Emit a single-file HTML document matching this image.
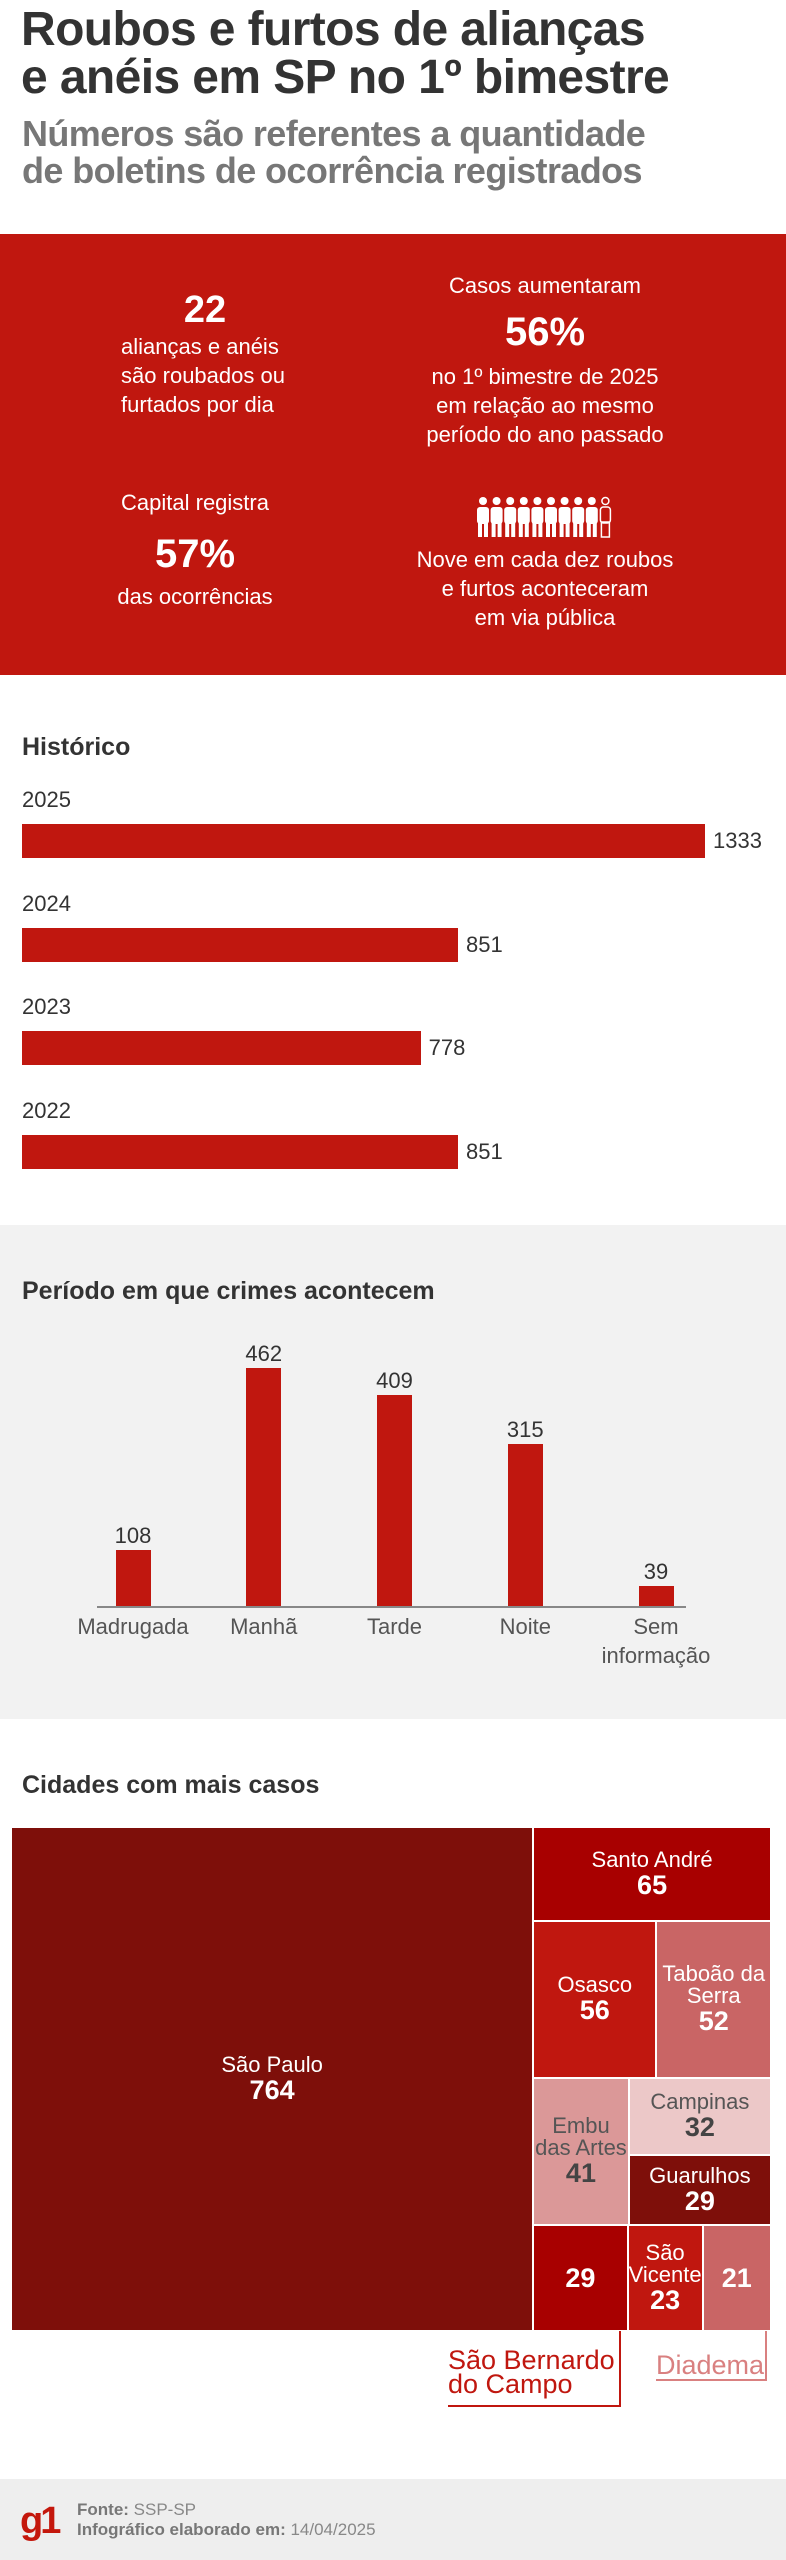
<!DOCTYPE html>
<html><head><meta charset="utf-8">
<style>
*{margin:0;padding:0;box-sizing:border-box}
body{width:786px;height:2560px;background:#fff;font-family:"Liberation Sans",sans-serif;position:relative;overflow:hidden;color:#333}
.a{position:absolute}
.t{white-space:nowrap}
.c{text-align:center;transform:translateX(-50%)}
</style></head><body>
<div class="a t" style="left:21px;top:6px;font-size:48px;font-weight:bold;line-height:48px;color:#333;letter-spacing:-0.6px">Roubos e furtos de alianças<br>e anéis em SP no 1º bimestre</div>
<div class="a t" style="left:22px;top:115px;font-size:36px;font-weight:bold;line-height:37px;color:#777;letter-spacing:-0.6px">Números são referentes a quantidade<br>de boletins de ocorrência registrados</div>

<div class="a" style="left:0;top:234px;width:786px;height:441px;background:#c0170f;color:#fff">
 <div class="a t c" style="left:205px;top:55px;font-size:38px;font-weight:bold">22</div>
 <div class="a t c" style="left:203px;top:98px;font-size:22px;line-height:29px;text-align:left">alianças e anéis<br>são roubados ou<br>furtados por dia</div>
 <div class="a t c" style="left:545px;top:39px;font-size:22px">Casos aumentaram</div>
 <div class="a t c" style="left:545px;top:76px;font-size:40px;font-weight:bold">56%</div>
 <div class="a t c" style="left:545px;top:128px;font-size:22px;line-height:29px">no 1º bimestre de 2025<br>em relação ao mesmo<br>período do ano passado</div>
 <div class="a t c" style="left:195px;top:256px;font-size:22px">Capital registra</div>
 <div class="a t c" style="left:195px;top:298px;font-size:40px;font-weight:bold">57%</div>
 <div class="a t c" style="left:195px;top:350px;font-size:22px">das ocorrências</div>
 <svg class="a" style="left:476px;top:262px" width="138" height="42" viewBox="0 0 138 42" id="ppl"></svg>
 <div class="a t c" style="left:545px;top:311px;font-size:22px;line-height:29px">Nove em cada dez roubos<br>e furtos aconteceram<br>em via pública</div>
</div>

<div class="a t" style="left:22px;top:733px;font-size:25px;font-weight:bold">Histórico</div>
<div id="hist"></div>

<div class="a" style="left:0;top:1225px;width:786px;height:494px;background:#f2f2f2"></div>
<div class="a t" style="left:22px;top:1277px;font-size:25px;font-weight:bold">Período em que crimes acontecem</div>
<div id="per"></div>

<div class="a t" style="left:22px;top:1771px;font-size:25px;font-weight:bold">Cidades com mais casos</div>
<div id="tree"></div>

<div class="a" style="left:448px;top:2331px;width:173px;height:76px;border-right:2px solid #c0170f;border-bottom:2px solid #c0170f"></div>
<div class="a t" style="left:448px;top:2348px;font-size:27px;line-height:24px;color:#c0170f">São Bernardo<br>do Campo</div>
<div class="a" style="left:656px;top:2331px;width:111px;height:50px;border-right:2px solid #d98080;border-bottom:2px solid #d98080"></div>
<div class="a t" style="left:656px;top:2350px;font-size:27px;color:#d98080">Diadema</div>

<div class="a" style="left:0;top:2479px;width:786px;height:81px;background:#eee"></div>
<div class="a t" style="left:20px;top:2500px;font-size:38px;font-weight:bold;color:#c4170c;letter-spacing:-3px">g1</div>
<div class="a t" style="left:77px;top:2500px;font-size:17px;line-height:20px;color:#888"><b style="color:#777">Fonte:</b> SSP-SP<br><b style="color:#777">Infográfico elaborado em:</b> 14/04/2025</div>

<script>
(function(){
 var s=document.getElementById('ppl'),h='';
 for(var i=0;i<10;i++){var x=7+i*13.6;
  if(i<9){h+='<circle cx="'+x+'" cy="5" r="4" fill="#fff"/><rect x="'+(x-6)+'" y="11" width="12" height="17" rx="3" fill="#fff"/><rect x="'+(x-5)+'" y="26" width="4" height="15" fill="#fff"/><rect x="'+(x+1)+'" y="26" width="4" height="15" fill="#fff"/>';}
  else{h+='<circle cx="'+x+'" cy="5" r="3.5" fill="none" stroke="#fff" stroke-width="1.5"/><rect x="'+(x-5)+'" y="11" width="10" height="16" rx="3" fill="none" stroke="#fff" stroke-width="1.5"/><rect x="'+(x-4)+'" y="26" width="8" height="15" fill="none" stroke="#fff" stroke-width="1.5"/>';}
 }
 s.innerHTML=h;
})();

var histYears=['2025','2024','2023','2022'];
var histValues=[1333,851,778,851];
var perCats=['Madrugada','Manhã','Tarde','Noite','Sem<br>informação'];
var perValues=[108,462,409,315,39];
var cityNames=['São Paulo','Santo André','Osasco','Taboão da<br>Serra','Embu<br>das Artes','Campinas','Guarulhos','','São<br>Vicente',''];
var cityValues=[764,65,56,52,41,32,29,29,23,21];
var cityColors=['#7e0f0a','#a80000','#c0170f','#c96565','#db9898','#ecc8c8','#7e0f0a','#a80000','#c0170f','#c96565'];

function mk(parent,css,html){var d=document.createElement('div');d.className='a t';d.style.cssText=css;if(html!=null)d.innerHTML=html;parent.appendChild(d);return d;}

(function(){
 var root=document.getElementById('hist');
 var x0=22,maxW=683,maxV=1333;
 function xs(v){return v/maxV*maxW;}
 for(var i=0;i<histYears.length;i++){
  var top=787+i*103.5;
  var l=mk(root,'left:22px;top:'+top+'px;font-size:22px;color:#333',histYears[i]);
  
  
  var b=mk(root,'left:'+x0+'px;top:'+(top+37)+'px;width:'+xs(histValues[i])+'px;height:34px;background:#c0170f');
  
  
  var v=mk(root,'left:'+(x0+xs(histValues[i])+8)+'px;top:'+(top+41)+'px;font-size:22px;color:#333',String(histValues[i]));
  
  
 }
})();

(function(){
 var root=document.getElementById('per');
 var base=1606,maxH=238,maxV=462,bw=35,x0=133,step=130.75;
 function ys(v){return v/maxV*maxH;}
 var ax=mk(root,'left:97px;top:'+base+'px;width:589px;height:2px;background:#888');
 
 
 for(var i=0;i<perCats.length;i++){
  var cx=x0+i*step,h=ys(perValues[i]);
  var b=mk(root,'left:'+(cx-bw/2)+'px;top:'+(base-h)+'px;width:'+bw+'px;height:'+h+'px;background:#c0170f');
  
  
  var v=mk(root,'left:'+cx+'px;top:'+(base-h-27)+'px;font-size:22px;color:#333;transform:translateX(-50%)',String(perValues[i]));
  
  
  var c=mk(root,'left:'+cx+'px;top:'+(base+6)+'px;font-size:22px;line-height:29px;color:#555;text-align:center;transform:translateX(-50%)',perCats[i]);
  
  
 }
})();

(function(){
 var root=document.getElementById('tree');
 var layout={d:'h',c:[0,{d:'v',c:[1,{d:'h',c:[2,3]},{d:'h',c:[4,{d:'v',c:[5,6]}]},{d:'h',c:[7,8,9]}]}]};
 function sum(n){if(typeof n==='number')return cityValues[n];var s=0;n.c.forEach(function(k){s+=sum(k);});return s;}
 function place(n,x,y,w,h){
  if(typeof n==='number'){draw(n,x,y,w,h);return;}
  var tot=sum(n),off=0;
  n.c.forEach(function(k){var f=sum(k)/tot;
   if(n.d==='h'){place(k,x+off,y,w*f,h);off+=w*f;}else{place(k,x,y+off,w,h*f);off+=h*f;}});
 }
 function draw(i,x,y,w,h){
  var dark=cityColors[i]==='#ecc8c8'||cityColors[i]==='#db9898';
  var col=dark?'#444':'#fff';
  var r=mk(root,'left:'+x+'px;top:'+y+'px;width:'+w+'px;height:'+h+'px;background:'+cityColors[i]+';border:1px solid #fff;display:flex;flex-direction:column;align-items:center;justify-content:center;text-align:center;color:'+col);
  
  
  r.innerHTML=(cityNames[i]?'<div style="font-size:22px;line-height:22px;color:'+(dark?'#555':'#fff')+'">'+cityNames[i]+'</div>':'')+'<div style="font-size:27px;font-weight:bold;line-height:28px">'+cityValues[i]+'</div>';
 }
 place(layout,11,1827,760,504);
})();
</script>
</body></html>
